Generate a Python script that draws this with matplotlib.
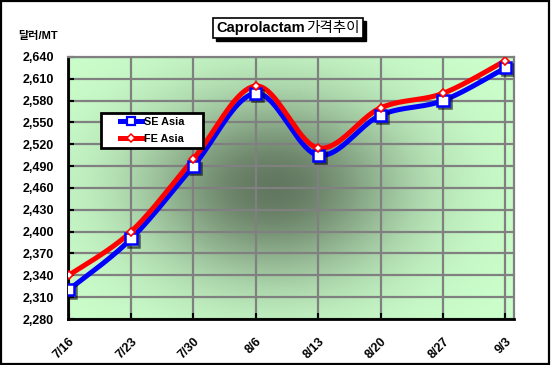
import numpy as np
import matplotlib
matplotlib.use("Agg")
import matplotlib.pyplot as plt
import matplotlib.patheffects as pe
from matplotlib.patches import Rectangle
from matplotlib.transforms import Bbox

plt.rcParams['font.family'] = ['Liberation Sans', 'Noto Sans CJK KR', 'DejaVu Sans']

dates = ['7/16', '7/23', '7/30', '8/6', '8/13', '8/20', '8/27', '9/3']
se_asia = [2320, 2390, 2490, 2590, 2505, 2560, 2580, 2625]
fe_asia = [2340, 2400, 2500, 2600, 2515, 2570, 2590, 2635]
y_ticks = list(range(2280, 2641, 30))


def smooth(xs, ys, n=40):
    # Excel-style smoothed line (cubic bezier through the points)
    p = np.column_stack([xs, ys]).astype(float)
    out = []
    for i in range(len(p) - 1):
        p0 = p[i - 1] if i > 0 else p[i]
        p1, p2 = p[i], p[i + 1]
        p3 = p[i + 2] if i + 2 < len(p) else p[i + 1]
        c1 = p1 + (p2 - p0) / 6
        c2 = p2 - (p3 - p1) / 6
        t = np.linspace(0, 1, n)[:, None]
        seg = ((1 - t) ** 3) * p1 + 3 * ((1 - t) ** 2) * t * c1 + 3 * (1 - t) * t ** 2 * c2 + t ** 3 * p2
        out.append(seg)
    out = np.vstack(out)
    return out[:, 0], out[:, 1]


fig = plt.figure(figsize=(5.51, 3.65), dpi=100)
ax = fig.add_axes([0.1234, 0.126, 0.8096, 0.718])

# background: light green with dark soft shading in the middle
gx, gy = np.meshgrid(np.linspace(0, 1, 300), np.linspace(0, 1, 200))
w = 0.9 * np.exp(-0.5 * ((gx - 0.46) / 0.21) ** 2 - 0.5 * ((gy - 0.5) / 0.25) ** 2)
light = np.array([0.80, 1.0, 0.80])
dark = np.array([0.34, 0.41, 0.33])
img = light[None, None, :] * (1 - w[..., None]) + dark[None, None, :] * w[..., None]
ax.imshow(img, extent=[0, 1, 0, 1], transform=ax.transAxes, aspect='auto', zorder=0, origin='lower')

x = np.arange(len(dates))
ax.set_xlim(-0.01, 7.14)
ax.set_ylim(2280, 2640)

ax.grid(True, color='#808080', lw=1.6, zorder=1)
ax.set_axisbelow(True)

sx, sy = smooth(x, se_asia)
fx, fy = smooth(x, fe_asia)
shadow = [pe.SimpleLineShadow(offset=(1.5, -1.5), alpha=0.6), pe.Normal()]
ax.plot(sx, sy, color='#0000ff', lw=3.6, zorder=3, solid_capstyle='butt')
ax.plot(fx, fy, color='#ff0000', lw=3.6, zorder=4, solid_capstyle='butt')
ax.plot(x, se_asia, ls='none', marker='s', ms=8, mfc='white', mec='#0000ff', mew=1.8,
        zorder=5, path_effects=shadow)
ax.plot(x, fe_asia, ls='none', marker='D', ms=4.5, mfc='white', mec='#ff0000', mew=1.2, zorder=6)

# legend: box drawn separately so it can be wider than the entries
ax.plot([], [], color='#0000ff', lw=3.6, marker='s', ms=6, mfc='white', mec='#0000ff', mew=1.6, label='SE Asia')
ax.plot([], [], color='#ff0000', lw=3.6, marker='D', ms=4, mfc='white', mec='#ff0000', mew=1.1, label='FE Asia')
ax.add_patch(Rectangle((0.074, 0.653), 0.229, 0.133, transform=ax.transAxes, fc='white',
                       ec='black', lw=2, zorder=9))
leg = ax.legend(loc='center left', bbox_to_anchor=(0.116, 0.72), frameon=False,
                prop={'weight': 'bold', 'size': 7.8}, handlelength=2.1, handletextpad=0.1,
                borderpad=0, borderaxespad=0, labelspacing=0.6, numpoints=1)
leg.set_zorder(10)

ax.set_xticks(x)
ax.set_xticklabels(dates, rotation=45, ha='right', va='top', rotation_mode='anchor')
ax.set_yticks(y_ticks)
ax.set_yticklabels([f'{v:,}' for v in y_ticks])
for lab in ax.get_xticklabels() + ax.get_yticklabels():
    lab.set_fontweight('bold')
    lab.set_fontsize(9)
ax.tick_params(axis='y', direction='in', length=4, width=1.5, pad=10)
ax.tick_params(axis='x', direction='in', length=4, width=1.5, pad=12)

for side in ['left', 'bottom']:
    ax.spines[side].set_linewidth(2)
    ax.spines[side].set_color('black')
for side in ['top', 'right']:
    ax.spines[side].set_linewidth(1.6)
    ax.spines[side].set_color('#808080')

# title: bold latin part + regular korean part, in a box with a drop shadow
t1 = fig.text(216 / 551, 0.922, 'Caprolactam', ha='left', va='center', fontsize=10.5,
              fontweight='bold', zorder=5)
fig.canvas.draw()
r = fig.canvas.get_renderer()
e1 = t1.get_window_extent(r)
t2 = fig.text((e1.x1 + 2) / 551, 0.922, '가격추이', ha='left', va='center', fontsize=10.5,
              fontweight='normal', zorder=5)
fig.canvas.draw()
e2 = t2.get_window_extent(r)
box = Bbox.union([e1, e2]).padded(3).transformed(fig.transFigure.inverted())
dx, dy = 3 / 551, 3 / 365
fig.patches.append(Rectangle((box.x0 + dx, box.y0 - dy), box.width, box.height, transform=fig.transFigure,
                             fc='black', ec='black', zorder=1))
fig.patches.append(Rectangle((box.x0, box.y0), box.width, box.height, transform=fig.transFigure,
                             fc='white', ec='black', lw=1.2, zorder=2))

fig.text(0.033, 0.902, '달러/MT', ha='left', va='center', fontsize=8, fontweight='bold')

fig.patches.append(Rectangle((0.002, 0.003), 0.995, 0.994, transform=fig.transFigure,
                             fill=False, ec='black', lw=1.6))

fig.savefig('out.png', dpi=100)
